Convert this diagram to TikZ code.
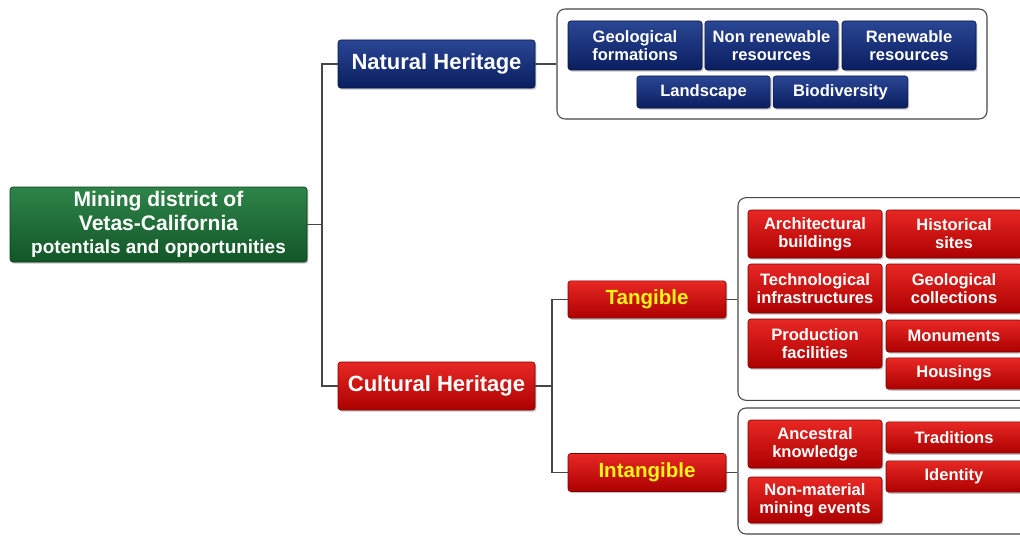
\documentclass[tikz,border=0pt]{standalone}
\usepackage{fontspec}
\setmainfont{Liberation Sans}
\usetikzlibrary{shadows}

\definecolor{grtop}{RGB}{46,132,72}
\definecolor{grbot}{RGB}{18,86,40}
\definecolor{bltop}{RGB}{42,70,148}
\definecolor{blbot}{RGB}{10,30,96}
\definecolor{rdtop}{RGB}{232,40,36}
\definecolor{rdbot}{RGB}{172,0,0}
\definecolor{linegray}{RGB}{70,70,70}
\definecolor{txtyellow}{RGB}{255,245,20}

\tikzset{
  card/.style={rounded corners=2pt, inner sep=1pt, align=center, text=white,
    font=\bfseries\fontsize{12.4}{13.5}\selectfont,
    drop shadow={shadow xshift=1pt, shadow yshift=-1.2pt, opacity=0.45}},
  greencard/.style={card, draw=grbot!70!black, top color=grtop, bottom color=grbot},
  bluecard/.style={card, draw=blbot!70!black, top color=bltop, bottom color=blbot},
  redcard/.style={card, draw=rdbot!70!black, top color=rdtop, bottom color=rdbot},
  frame/.style={draw=linegray, fill=white, rounded corners=6pt, line width=0.8pt, inner sep=0pt},
  link/.style={draw=linegray, line width=0.8pt}
}

\begin{document}
\begin{tikzpicture}[x=0.75pt, y=-0.75pt]
    \useasboundingbox (0,0) rectangle (1020,535);
    \clip (0,0) rectangle (1020,535);

    % Define the root of the map
    \node[greencard, minimum width=222.75pt, minimum height=56.25pt,
          font=\bfseries\fontsize{15.8}{17.5}\selectfont] (m0) at (158.5,224.5)
        {Mining district of\\ Vetas-California\\
         \fontsize{14.2}{17.5}\selectfont potentials and opportunities};

    % Define the two heritage branches
    \node[bluecard, minimum width=147.75pt, minimum height=36pt,
          font=\bfseries\fontsize{16.5}{18}\selectfont] (h1) at (436.5,64) {Natural Heritage};
    \node[redcard, minimum width=147.75pt, minimum height=36pt,
          font=\bfseries\fontsize{16.5}{18}\selectfont] (h2) at (436.5,386) {Cultural Heritage};

    % Define the sub-branches of the cultural heritage
    \node[redcard, text=txtyellow, minimum width=118.5pt, minimum height=28pt,
          font=\bfseries\fontsize{15.4}{17}\selectfont] (k1) at (647,299.5) {Tangible};
    \node[redcard, text=txtyellow, minimum width=118.5pt, minimum height=28.5pt,
          font=\bfseries\fontsize{15.4}{17}\selectfont] (k2) at (647,472.5) {Intangible};

    % Define the frames that hold the leaves
    \node[frame, minimum width=322.5pt, minimum height=82.5pt] (g1) at (772,64) {};
    \node[frame, minimum width=220.5pt, minimum height=152pt] (g2) at (885,299) {};
    \node[frame, minimum width=220.5pt, minimum height=94.5pt] (g3) at (885,471) {};

    % Leaves of the natural heritage
    \node[bluecard, minimum width=100.5pt, minimum height=36.75pt] (n1) at (635,45.5) {Geological\\formations};
    \node[bluecard, minimum width=100pt, minimum height=36.75pt] (n2) at (771.5,45.5) {Non renewable\\resources};
    \node[bluecard, minimum width=100.5pt, minimum height=36.75pt] (n3) at (909,45.5) {Renewable\\resources};
    \node[bluecard, minimum width=100pt, minimum height=24pt] (n4) at (703.5,92) {Landscape};
    \node[bluecard, minimum width=101pt, minimum height=24pt] (n5) at (840.5,92) {Biodiversity};

    % Leaves of the tangible heritage
    \node[redcard, minimum width=100.5pt, minimum height=36pt] (t1) at (815,234) {Architectural\\buildings};
    \node[redcard, minimum width=100.5pt, minimum height=36.75pt] (t2) at (815,288.5) {Technological\\infrastructures};
    \node[redcard, minimum width=100.5pt, minimum height=36.75pt] (t3) at (815,343.5) {Production\\facilities};
    \node[redcard, minimum width=102pt, minimum height=36pt] (t4) at (954,234) {Historical\\sites};
    \node[redcard, minimum width=102pt, minimum height=36.75pt] (t5) at (954,288.5) {Geological\\collections};
    \node[redcard, minimum width=102pt, minimum height=24pt] (t6) at (954,336) {Monuments};
    \node[redcard, minimum width=102pt, minimum height=23.5pt] (t7) at (954,373.5) {Housings};

    % Leaves of the intangible heritage
    \node[redcard, minimum width=100.5pt, minimum height=36pt] (i1) at (815,444) {Ancestral\\knowledge};
    \node[redcard, minimum width=100.5pt, minimum height=34.5pt] (i2) at (815,500) {Non-material\\mining events};
    \node[redcard, minimum width=102pt, minimum height=23.5pt] (i3) at (954,437.5) {Traditions};
    \node[redcard, minimum width=102pt, minimum height=23.5pt] (i4) at (954,476.5) {Identity};

    % Draw the connectors of the tree
    \coordinate (j1) at (322,224.5);
    \coordinate (j2) at (552,386);
    \draw[link] (m0.east) -- (j1);
    \draw[link] (h1.west) -| (j1) |- (h2.west);
    \draw[link] (h1.east) -- (g1.west);
    \draw[link] (h2.east) -- (j2);
    \draw[link] (k1.west) -| (j2) |- (k2.west);
    \draw[link] (k1.east) -- (k1.east -| g2.west);
    \draw[link] (k2.east) -- (k2.east -| g3.west);
\end{tikzpicture}
\end{document}
